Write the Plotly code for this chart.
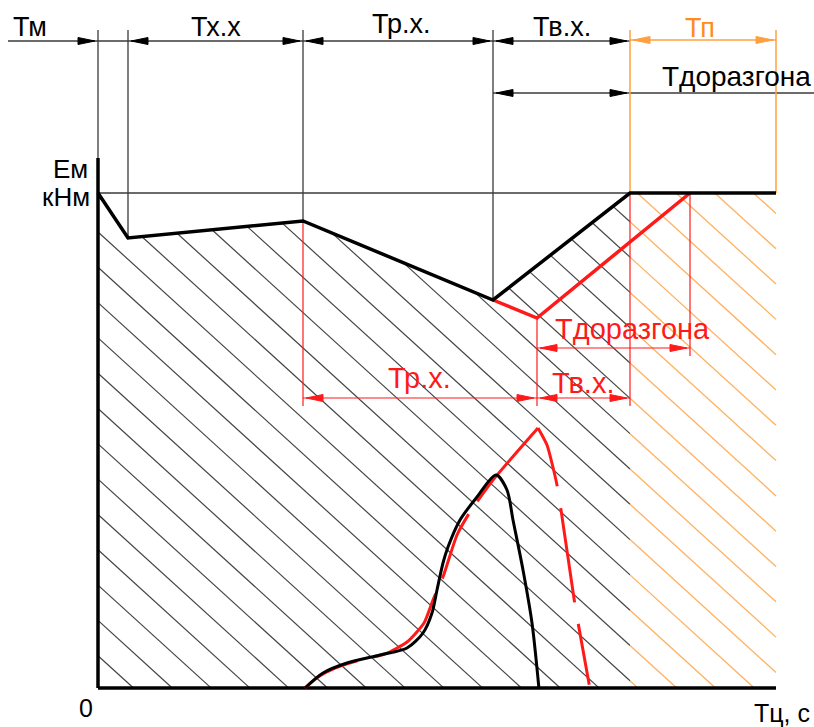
import numpy as np
import plotly.graph_objects as go

# ---------------- data (schematic coordinates: t to the right, E downward) ----------------
# Phase boundaries on the time axis
t_zero, t_m, t_xx, t_rx, t_vx, t_p_end = 98, 128, 303, 493, 630, 776
t_red_vx, t_red_dor = 537, 690
# Energy levels
e_top, e_axis = 193, 688
# Black energy curve (nominal cycle)
energy_t = [98, 128, 303, 493, 630, 776]
energy_e = [193, 238, 221, 300, 193, 193]
# Red energy curve (extended cycle)
red_t = [493, 537, 690]
red_e = [300, 318, 193]
# Lower black curve
low_black_t = [305, 323, 347, 380, 407, 423, 432, 437, 443, 448, 460, 477, 496, 507, 513, 523, 532, 539]
low_black_e = [688, 673, 663, 655, 648, 633, 613, 590, 563, 547, 520, 497, 475, 490, 520, 570, 623, 689]
# Lower red dashed curve: rising branch (from the peak back to the start) and falling branch
low_red_up_t = [538, 493, 470, 457, 443, 433, 424, 407, 385, 360, 335, 318, 305]
low_red_up_e = [428, 480, 512, 535, 577, 600, 623, 642, 654, 660, 668, 677, 688]
low_red_dn_t = [538, 547, 557, 575, 590]
low_red_dn_e = [428, 445, 485, 605, 689]
# Labels
top_labels = ["Тм", "Тх.х", "Тр.х.", "Тв.х."]
top_label_t = [30, 216, 401, 562]
top_label_e = [27, 27, 24, 27]

BLACK = "#000000"
THIN = "#3a3a3a"
RED = "#ff1a1a"
ORANGE = "#ffa040"
ORANGE_H = "#ffb060"

fig = go.Figure()


def seg(xs, ys, color, width, dash=None, shape="linear", smoothing=None):
    line = dict(color=color, width=width, dash=dash, shape=shape)
    if smoothing is not None:
        line["smoothing"] = smoothing
    fig.add_trace(go.Scatter(x=xs, y=ys, mode="lines", line=line,
                             hoverinfo="skip", showlegend=False))


# ---------------- hatching ----------------
slope = 0.91
spacing = 38.8
x0 = 133.5


def top_black(x):
    return np.interp(x, energy_t, energy_e)


gx, gy, ox, oy = [], [], [], []
xs = np.arange(t_zero, t_p_end + 0.25, 0.25)
for k in range(-20, 45):
    xb = x0 + spacing * k
    ys = e_axis + slope * (xs - xb)
    inside = (xs <= t_vx) & (ys <= e_axis) & (ys >= top_black(xs))
    idx = np.where(inside)[0]
    if idx.size:
        groups = np.split(idx, np.where(np.diff(idx) > 1)[0] + 1)
        for g in groups:
            if g.size > 1:
                gx += [xs[g[0]], xs[g[-1]], None]
                gy += [ys[g[0]], ys[g[-1]], None]
    inside_o = (xs >= t_vx) & (ys <= e_axis) & (ys >= e_top)
    idx = np.where(inside_o)[0]
    if idx.size > 1:
        ox += [xs[idx[0]], xs[idx[-1]], None]
        oy += [ys[idx[0]], ys[idx[-1]], None]

seg(gx, gy, "#444444", 1.2)
seg(ox, oy, ORANGE_H, 1.3)

# ---------------- thin construction lines ----------------
seg([8, t_vx], [41, 41], THIN, 1.5)
seg([t_vx, t_p_end], [40, 40], ORANGE, 1.5)
seg([t_rx, 814], [93, 93], THIN, 1.5)
for xv, yb in [(t_zero, e_top), (t_m, 238), (t_xx, 221), (t_rx, 300)]:
    seg([xv, xv], [30, yb], THIN, 1.3)
seg([t_vx, t_vx], [30, e_top], ORANGE, 1.5)
seg([t_p_end, t_p_end], [30, e_top], ORANGE, 1.5)
seg([t_zero, t_vx], [e_top, e_top], THIN, 1.3)

# red construction lines
seg([t_xx, t_xx], [222, 406], RED, 1.2)
seg([t_red_vx, t_red_vx], [318, 406], RED, 1.2)
seg([t_vx, t_vx], [e_top, 406], RED, 1.2)
seg([t_red_dor, t_red_dor], [e_top, 356], RED, 1.2)
seg([t_xx, t_vx], [398, 398], RED, 1.2)
seg([t_red_vx, t_red_dor], [348, 348], RED, 1.2)


# ---------------- arrowheads ----------------
def arrows(spec, color):
    axs, ays = [], []
    for tip, y, d in spec:
        L, w = 17, 3.5
        axs += [tip, tip - d * L, tip - d * L, tip, None]
        ays += [y, y - w, y + w, y, None]
    fig.add_trace(go.Scatter(x=axs, y=ays, mode="lines", fill="toself", fillcolor=color,
                             line=dict(color=color, width=1), hoverinfo="skip", showlegend=False))


# d=+1 : pointing right, d=-1 : pointing left
arrows([(t_zero - 3, 41, 1), (t_m + 3, 41, -1), (t_xx - 3, 41, 1), (t_xx + 3, 41, -1),
        (t_rx - 3, 41, 1), (t_rx + 3, 41, -1), (t_vx - 3, 41, 1),
        (t_rx + 3, 93, -1), (t_vx - 3, 93, 1)], BLACK)
arrows([(t_vx + 3, 40, -1), (t_p_end - 3, 40, 1)], ORANGE)
arrows([(t_xx + 3, 398, -1), (t_red_vx - 3, 398, 1), (t_red_vx + 3, 398, -1), (t_vx - 3, 398, 1),
        (t_red_vx + 3, 348, -1), (t_red_dor - 3, 348, 1)], RED)

# ---------------- axes ----------------
seg([t_zero, t_zero], [158, e_axis], BLACK, 3.5)
seg([t_zero, t_p_end], [e_axis, e_axis], BLACK, 3.5)

# ---------------- main curves ----------------
seg(red_t, red_e, RED, 3.5)
seg(energy_t, energy_e, BLACK, 3.5)
seg(low_red_up_t, low_red_up_e, RED, 3, dash="95px,16px,70px,16px", shape="spline", smoothing=0.6)
seg(low_red_dn_t, low_red_dn_e, RED, 3, dash="62px,22px,95px,22px", shape="spline", smoothing=0.5)
seg(low_black_t, low_black_e, BLACK, 3, shape="spline", smoothing=0.8)

# ---------------- texts ----------------
FONT = "Liberation Sans, Arial, sans-serif"
ann = []
for txt, xx, yy in zip(top_labels, top_label_t, top_label_e):
    ann.append(dict(x=xx, y=yy, text=txt, font=dict(size=27, color=BLACK)))
ann.append(dict(x=700, y=28, text="Тп", font=dict(size=27, color="#ff8c1a")))
ann.append(dict(x=736, y=76, text="Тдоразгона", font=dict(size=28, color=BLACK)))
ann.append(dict(x=90, y=169, text="Ем", xanchor="right", font=dict(size=26, color=BLACK)))
ann.append(dict(x=92, y=197, text="кНм", xanchor="right", font=dict(size=26, color=BLACK)))
ann.append(dict(x=419, y=378, text="Тр.х.", font=dict(size=29, color=RED)))
ann.append(dict(x=583, y=383, text="Тв.х.", font=dict(size=29, color=RED)))
ann.append(dict(x=632, y=329, text="Тдоразгона", font=dict(size=29, color=RED)))
ann.append(dict(x=86, y=708, text="0", font=dict(size=25, color=BLACK)))
ann.append(dict(x=782, y=713, text="Тц, с", font=dict(size=25, color=BLACK)))
for a in ann:
    a.update(xref="x", yref="y", showarrow=False)
    a.setdefault("xanchor", "center")
    a["yanchor"] = "middle"
    a["font"]["family"] = FONT

fig.update_layout(
    width=814, height=727, margin=dict(l=0, r=0, t=0, b=0),
    paper_bgcolor="white", plot_bgcolor="white",
    xaxis=dict(range=[0, 814], visible=False, fixedrange=True),
    yaxis=dict(range=[727, 0], visible=False, fixedrange=True),
    annotations=ann, showlegend=False,
)
fig.write_html("out.html")
